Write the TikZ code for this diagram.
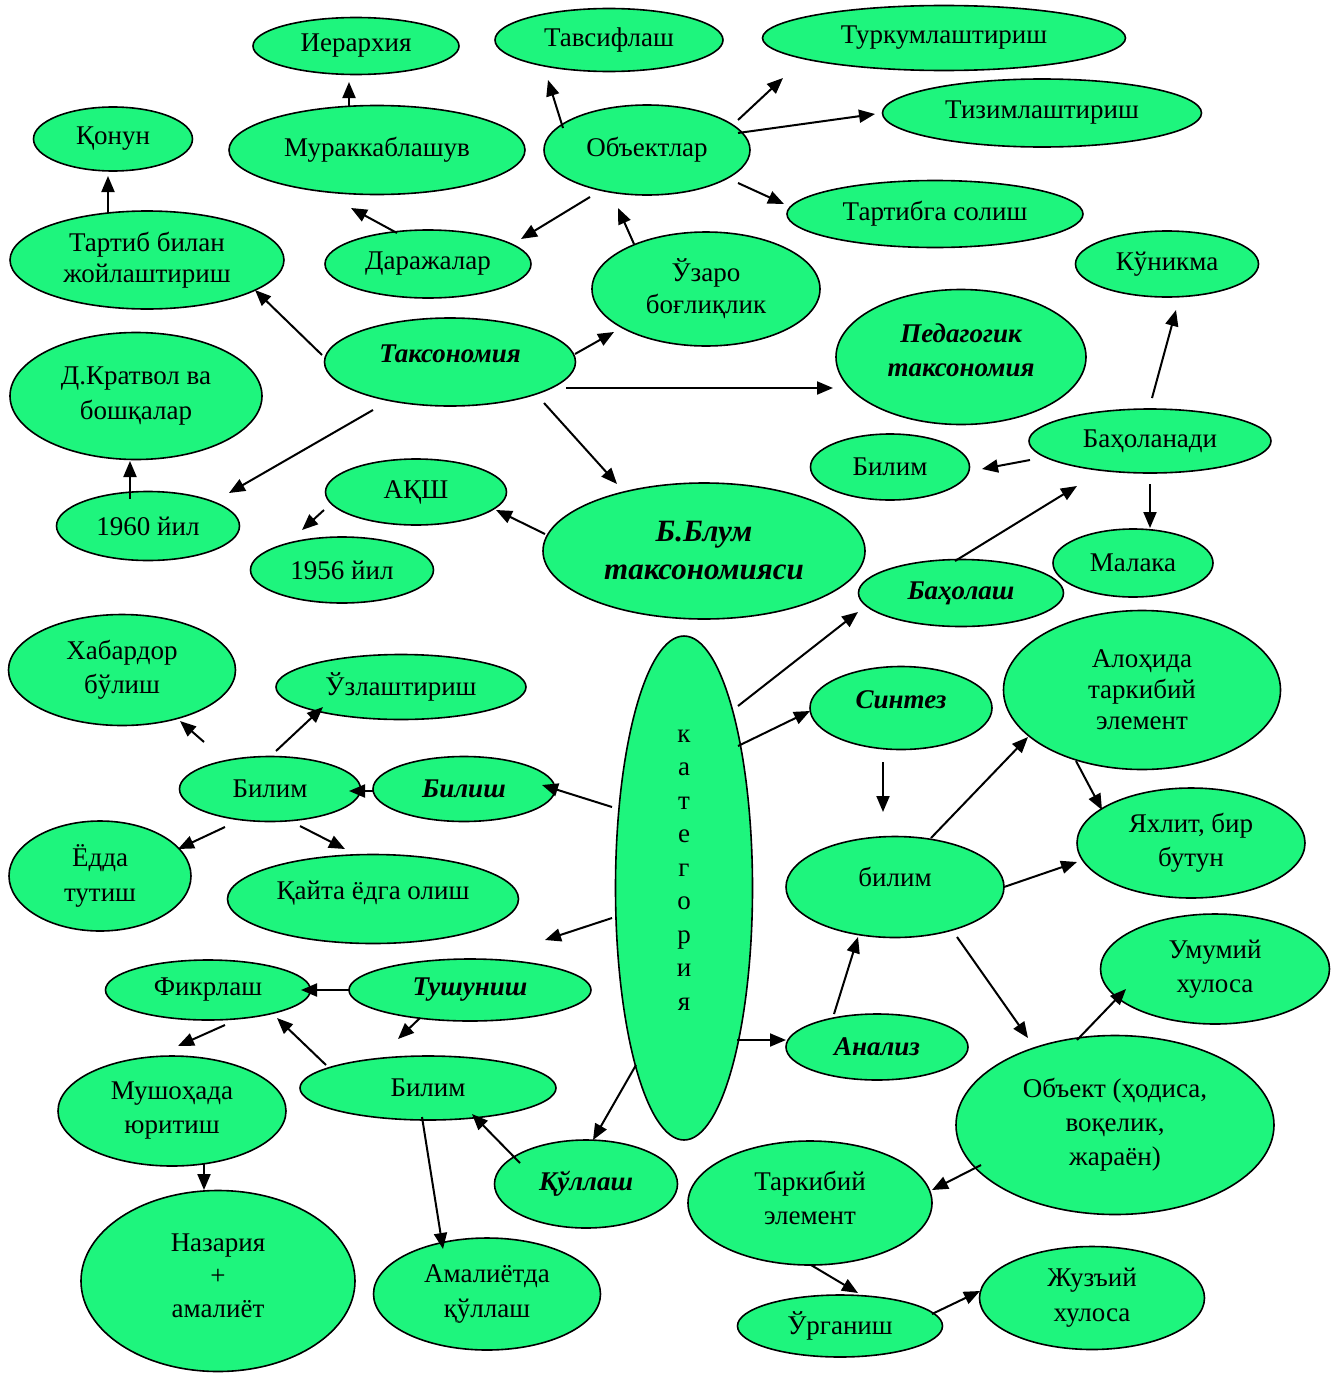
\documentclass[tikz,border=0pt]{standalone}
\usepackage{fontspec}
\setmainfont{Liberation Serif}
\usetikzlibrary{shapes.geometric,arrows.meta,calc}
\definecolor{nodegreen}{RGB}{30,245,125}
\tikzset{
  el/.style={ellipse, draw=black, fill=nodegreen, line width=1.6pt, inner sep=0pt, outer sep=0pt,
    align=center, font=\fontsize{27}{34}\selectfont},
  sz/.style 2 args={minimum width=#1, minimum height=#2},
  bi/.style={font=\fontsize{27}{34}\selectfont\bfseries\itshape},
  conn/.style={line width=2pt, -{Triangle[length=16pt,width=13pt]}}
}
\begin{document}
\begin{tikzpicture}[x=1pt,y=-1pt]
\useasboundingbox (0,0) rectangle (1342,1373);
% nodes
\node[el,sz={206}{57}] (ier) at (356,46) {Иерархия};
\node[el,sz={228}{63}] (tav) at (609,40) {Тавсифлаш};
\node[el,sz={363}{65}] (tur) at (944,38) {Туркумлаштириш};
\node[el,sz={319}{68}] (tiz) at (1042,113) {Тизимлаштириш};
\node[el,sz={159}{64}] (qon) at (113,139) {Қонун};
\node[el,sz={296}{89}] (mur) at (377,150) {Мураккаблашув};
\node[el,sz={206}{90}] (obj) at (647,150) {Объектлар};
\node[el,sz={296}{67}] (tso) at (935,214) {Тартибга солиш};
\node[el,sz={274}{98},font=\fontsize{27}{31}\selectfont] (tbj) at (147,260) {Тартиб билан\\жойлаштириш};
\node[el,sz={206}{68}] (dar) at (428,264) {Даражалар};
\node[el,sz={228}{114},font=\fontsize{27}{32}\selectfont] (uza) at (706,289) {Ўзаро\\боғлиқлик};
\node[el,sz={183}{66}] (kun) at (1167,264) {Кўникма};
\node[el,bi,sz={251}{88}] (tax) at (450,362) {\smash{Таксономия}};
\node[el,bi,sz={250}{135},text depth=14pt] (ped) at (961,357) {Педагогик\\таксономия};
\node[el,sz={252}{127},font=\fontsize{27}{35}\selectfont] (kra) at (136,396) {Д.Кратвол ва\\бошқалар};
\node[el,sz={242}{64}] (bhn) at (1150,441) {Баҳоланади};
\node[el,sz={159}{66}] (bil1) at (890,467) {Билим};
\node[el,sz={181}{66}] (aqs) at (416,492) {АҚШ};
\node[el,sz={183}{69}] (y60) at (148,526) {1960 йил};
\node[el,sz={322}{136},font=\fontsize{31}{38}\selectfont\bfseries\itshape] (blu) at (704,551) {Б.Блум\\таксономияси};
\node[el,sz={183}{66}] (y56) at (342,570) {1956 йил};
\node[el,sz={160}{68}] (mal) at (1133,563) {Малака};
\node[el,bi,sz={205}{67}] (bah) at (961,593) {Баҳолаш};
\node[el,sz={227}{111}] (xab) at (122,670) {Хабардор\\бўлиш};
\node[el,sz={250}{65}] (uzl) at (401,687) {Ўзлаштириш};
\node[el,sz={137}{504}] (kat) at (684,888) {};
\node[align=center,font=\fontsize{27}{33.5}\selectfont,inner sep=0pt] (katt) at ($(kat)+(0,-18)$) {к\\а\\т\\е\\г\\о\\р\\и\\я};
\node[el,bi,sz={182}{83}] (sin) at (901,708) {\smash{Синтез}};
\node[el,sz={277}{159},font=\fontsize{27}{31}\selectfont] (alo) at (1142,690) {Алоҳида\\таркибий\\элемент};
\node[el,sz={181}{65}] (bil2) at (270,789) {Билим};
\node[el,bi,sz={182}{65}] (bsh) at (464,789) {Билиш};
\node[el,sz={182}{110},font=\fontsize{27}{35}\selectfont] (yod) at (100,876) {Ёдда\\тутиш};
\node[el,sz={291}{89}] (qay) at (373,899) {\smash{Қайта ёдга олиш}};
\node[el,sz={218}{101}] (bil3) at (895,887) {\raisebox{2pt}{\smash{билим}}};
\node[el,sz={228}{110}] (yax) at (1191,843) {Яхлит, бир\\бутун};
\node[el,sz={229}{110}] (umu) at (1215,969) {Умумий\\хулоса};
\node[el,sz={205}{60}] (fik) at (208,990) {Фикрлаш};
\node[el,bi,sz={242}{62}] (tus) at (470,990) {Тушуниш};
\node[el,sz={228}{110}] (mus) at (172,1111) {Мушоҳада\\юритиш};
\node[el,sz={256}{64}] (bil4) at (428,1088) {Билим};
\node[el,bi,sz={182}{66}] (ana) at (877,1047) {Анализ};
\node[el,sz={318}{179}] (obk) at (1115,1125) {Объект (ҳодиса,\\воқелик,\\жараён)};
\node[el,bi,sz={183}{88}] (qul) at (586,1184) {Қўллаш};
\node[el,sz={244}{124},text depth=10pt] (tar) at (810,1203) {Таркибий\\элемент};
\node[el,sz={274}{181},text depth=10pt,font=\fontsize{27}{33}\selectfont] (naz) at (218,1281) {Назария\\+\\амалиёт};
\node[el,sz={227}{112},font=\fontsize{27}{35}\selectfont] (ama) at (487,1294) {Амалиётда\\қўллаш};
\node[el,sz={205}{62}] (urg) at (840,1326) {Ўрганиш};
\node[el,sz={225}{103},font=\fontsize{27}{35}\selectfont] (juz) at (1092,1298) {Жузъий\\хулоса};
% connectors
\draw[conn] ($(mur)+(-28,-43)$) -- ($(ier)+(-7,36)$);
\draw[conn] ($(obj)+(-84,-22)$) -- ($(tav)+(-61,40)$);
\draw[conn] ($(obj)+(91,-30)$) -- ($(tur)+(-161,40)$);
\draw[conn] ($(obj)+(91,-17)$) -- ($(tiz)+(-167,1)$);
\draw[conn] ($(obj)+(91,33)$) -- ($(tso)+(-151,-10)$);
\draw[conn] ($(tbj)+(-39,-47)$) -- ($(qon)+(-5,37)$);
\draw[conn] ($(dar)+(-31,-31)$) -- ($(mur)+(-26,58)$);
\draw[conn] ($(obj)+(-57,47)$) -- ($(dar)+(93,-25)$);
\draw[conn] ($(uza)+(-72,-45)$) -- ($(obj)+(-29,58)$);
\draw[conn] ($(tax)+(-128,-7)$) -- ($(tbj)+(108,30)$);
\draw[conn] ($(tax)+(125,-8)$) -- ($(uza)+(-92,43)$);
\draw[conn] ($(tax)+(116,26)$) -- ($(ped)+(-128,31)$);
\draw[conn] ($(tax)+(-77,48)$) -- ($(y60)+(81,-33)$);
\draw[conn] ($(tax)+(94,41)$) -- ($(blu)+(-87,-67)$);
\draw[conn] ($(y60)+(-18,-27)$) -- ($(kra)+(-6,65)$);
\draw[conn] ($(aqs)+(-92,18)$) -- ($(y56)+(-40,-40)$);
\draw[conn] ($(blu)+(-159,-17)$) -- ($(aqs)+(80,18)$);
\draw[conn] ($(bhn)+(2,-43)$) -- ($(kun)+(9,46)$);
\draw[conn] ($(bhn)+(-120,19)$) -- ($(bil1)+(92,2)$);
\draw[conn] ($(bhn)+(0,43)$) -- ($(mal)+(17,-35)$);
\draw[conn] ($(bah)+(-6,-32)$) -- ($(bhn)+(-73,45)$);
\draw[conn] ($(kat)+(54,-182)$) -- ($(bah)+(-103,19)$);
\draw[conn] ($(kat)+(54,-142)$) -- ($(sin)+(-91,3)$);
\draw[conn] ($(kat)+(-72,-81)$) -- ($(bsh)+(78,-4)$);
\draw[conn] ($(bsh)+(-91,2)$) -- ($(bil2)+(79,2)$);
\draw[conn] ($(bil2)+(6,-38)$) -- ($(uzl)+(-78,20)$);
\draw[conn] ($(bil2)+(-66,-47)$) -- ($(xab)+(58,51)$);
\draw[conn] ($(bil2)+(-45,38)$) -- ($(yod)+(78,-27)$);
\draw[conn] ($(bil2)+(30,37)$) -- ($(qay)+(-28,-50)$);
\draw[conn] ($(sin)+(-18,54)$) -- ($(bil3)+(-12,-75)$);
\draw[conn] ($(bil3)+(36,-49)$) -- ($(alo)+(-114,47)$);
\draw[conn] ($(alo)+(-66,71)$) -- ($(yax)+(-89,-33)$);
\draw[conn] ($(bil3)+(109,0)$) -- ($(yax)+(-114,19)$);
\draw[conn] ($(bil3)+(62,50)$) -- ($(obk)+(-87,-87)$);
\draw[conn] ($(kat)+(-72,30)$) -- ($(tus)+(75,-50)$);
\draw[conn] ($(tus)+(-121,0)$) -- ($(fik)+(93,0)$);
\draw[conn] ($(tus)+(-50,28)$) -- ($(bil4)+(-30,-49)$);
\draw[conn] ($(fik)+(17,35)$) -- ($(mus)+(6,-65)$);
\draw[conn] ($(bil4)+(-102,-23)$) -- ($(fik)+(69,28)$);
\draw[conn] ($(mus)+(32,52)$) -- ($(naz)+(-14,-91)$);
\draw[conn] ($(kat)+(53,152)$) -- ($(ana)+(-91,-7)$);
\draw[conn] ($(ana)+(-43,-33)$) -- ($(bil3)+(-37,50)$);
\draw[conn] ($(kat)+(-48,177)$) -- ($(qul)+(7,-44)$);
\draw[conn] ($(qul)+(-66,-21)$) -- ($(bil4)+(44,26)$);
\draw[conn] ($(bil4)+(-6,29)$) -- ($(ama)+(-44,-45)$);
\draw[conn] ($(obk)+(-38,-85)$) -- ($(umu)+(-89,20)$);
\draw[conn] ($(obk)+(-134,40)$) -- ($(tar)+(122,-13)$);
\draw[conn] ($(tar)+(1,62)$) -- ($(urg)+(18,-33)$);
\draw[conn] ($(urg)+(92,-12)$) -- ($(juz)+(-112,-7)$);
\end{tikzpicture}
\end{document}
